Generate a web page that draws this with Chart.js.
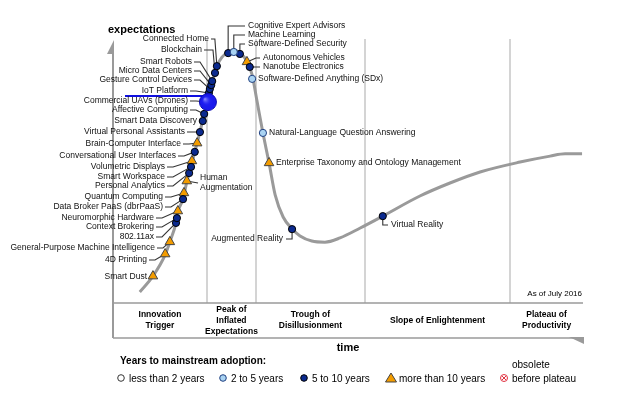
<!DOCTYPE html>
<html>
<head>
<meta charset="utf-8">
<script src="https://cdn.jsdelivr.net/npm/chart.js@4.4.1/dist/chart.umd.min.js"></script>
<style>
  html, body { margin: 0; padding: 0; background: #fff; }
  #wrap { width: 620px; height: 395px; }
</style>
</head>
<body>
<div id="wrap"><canvas id="hype" width="620" height="395"></canvas></div>
<script>
// hype curve (time 0-100, expectations 0-100)
const curveX = [5.7, 8.5, 11.1, 12.1, 13.4, 13.8, 14.9, 15.7, 16.6, 17.4, 18.5, 19.4, 20.2, 21.1, 22.1, 23.2, 24.5, 25.7, 27.0, 28.5, 29.6, 30.6, 31.9, 33.2, 34.5, 36.2, 38.1, 39.8, 42.3, 45.1, 48.3, 52.6, 57.4, 65.3, 71.7, 78.1, 86.6, 93.0, 96.2, 99.8];
const curveY = [3.9, 9.5, 17.0, 21.6, 28.3, 32.2, 36.7, 42.8, 48.1, 53.4, 60.4, 66.8, 71.4, 77.7, 83.7, 86.9, 88.7, 89.4, 88.3, 85.5, 80.6, 71.7, 60.1, 49.5, 38.2, 30.4, 26.2, 23.7, 21.9, 21.5, 23.0, 26.5, 30.7, 37.8, 42.4, 46.3, 49.8, 51.9, 52.7, 52.7];

// technologies: 0 = less than 2 years, 1 = 2 to 5, 2 = 5 to 10, 3 = more than 10
const techNames = [
  "Smart Dust", "4D Printing", "General-Purpose Machine Intelligence", "802.11ax",
  "Context Brokering", "Neuromorphic Hardware", "Data Broker PaaS (dbrPaaS)", "Quantum Computing",
  "Human\nAugmentation", "Personal Analytics", "Smart Workspace", "Volumetric Displays",
  "Conversational User Interfaces", "Brain-Computer Interface", "Virtual Personal Assistants", "Smart Data Discovery",
  "Affective Computing", "Commercial UAVs (Drones)", "IoT Platform", "Gesture Control Devices",
  "Micro Data Centers", "Smart Robots", "Blockchain", "Connected Home",
  "Cognitive Expert Advisors", "Machine Learning", "Software-Defined Security", "Autonomous Vehicles",
  "Nanotube Electronics", "Software-Defined Anything (SDx)", "Natural-Language Question Answering", "Enterprise Taxonomy and Ontology Management",
  "Augmented Reality", "Virtual Reality"
];
const techX = [8.5, 11.1, 12.1, 13.4, 13.6, 13.8, 14.9, 15.1, 15.7, 16.2, 16.6, 16.8, 17.4, 17.9, 18.5, 19.1, 19.4, 20.2, 20.4, 20.6, 20.9, 21.1, 21.7, 22.1, 24.5, 25.7, 27.0, 28.5, 29.1, 29.6, 31.9, 33.2, 38.1, 57.4];
const techY = [9.5, 17.3, 21.6, 28.3, 30.0, 32.5, 36.7, 38.9, 43.1, 45.9, 48.1, 50.2, 53.4, 56.5, 60.4, 64.3, 66.8, 71.0, 74.2, 75.6, 77.0, 78.4, 81.3, 83.7, 88.3, 88.7, 88.0, 85.2, 83.4, 79.2, 60.1, 49.5, 26.1, 30.7];
const techCat = [3, 3, 3, 2, 2, 3, 2, 3, 3, 2, 2, 3, 2, 3, 2, 2, 2, 2, 2, 2, 2, 2, 2, 2, 2, 1, 2, 3, 2, 1, 1, 3, 2, 2];

// highlighted item
const highlightX = [20.2];
const highlightY = [71.0];

const phaseBounds = [0, 20.0, 30.4, 53.6, 84.5, 100];
const phaseNames = ["Innovation\nTrigger", "Peak of\nInflated\nExpectations", "Trough of\nDisillusionment", "Slope of Enlightenment", "Plateau of\nProductivity"];
const legendLabels = ["less than 2 years", "2 to 5 years", "5 to 10 years", "more than 10 years", "before plateau"];

// label placement (canvas px): [x, y, align, leader]
const labelSpots = [
  [147, 277, "right", "none"], [147, 260, "right", "l"], [155, 248, "right", "l"], [154, 237, "right", "l"],
  [154, 227, "right", "l"], [154, 218, "right", "l"], [163, 207, "right", "l"], [163, 197, "right", "l"],
  [200, 178, "left", "ha"], [165, 186, "right", "l"], [165, 177, "right", "l"], [165, 167, "right", "l"],
  [176, 156, "right", "l"], [181, 144, "right", "l"], [185, 132, "right", "l"], [197, 121, "right", "l"],
  [188, 110, "right", "l"], [188, 101, "right", "l"], [188, 91, "right", "l"], [192, 80, "right", "l"],
  [192, 71, "right", "l"], [192, 62, "right", "l"], [202, 50, "right", "lv"], [209, 39, "right", "lv"],
  [248, 26, "left", "up"], [248, 35, "left", "up"], [248, 44, "left", "up"], [263, 58, "left", "r"],
  [263, 67, "left", "r"], [258, 79, "left", "none"], [269, 133, "left", "none"], [276, 163, "left", "none"],
  [283, 239, "right", "down"], [391, 225, "left", "down"]
];

const FONT = '"Liberation Sans", Arial, sans-serif';
const catFill = ["#ffffff", "#a9d3f2", "#0b2a8f", "#f39c00"];
const catBorder = ["#333333", "#1f3f80", "#000000", "#444444"];

function catData(c) {
  const out = [];
  techX.forEach((x, i) => { if (techCat[i] === c) out.push({ x: x, y: techY[i] }); });
  return out;
}

const decorPlugin = {
  id: 'decor',
  beforeDatasetsDraw(chart) {
    const { ctx: c, scales: { x, y } } = chart;
    const left = x.getPixelForValue(0), right = x.getPixelForValue(100);
    const base = y.getPixelForValue(0);
    const band = base + 35;
    c.save();
    // phase separators
    c.strokeStyle = "#d4d4d4";
    c.lineWidth = 2;
    phaseBounds.slice(1, -1).forEach(v => {
      const px = Math.round(x.getPixelForValue(v));
      c.beginPath(); c.moveTo(px, 39); c.lineTo(px, base); c.stroke();
    });
    // axes
    c.strokeStyle = "#9a9a9a";
    c.fillStyle = "#9a9a9a";
    c.lineWidth = 2;
    c.beginPath(); c.moveTo(left, 44); c.lineTo(left, band); c.stroke();
    c.lineWidth = 1.5;
    c.beginPath(); c.moveTo(left, base); c.lineTo(right, base); c.stroke();
    c.beginPath(); c.moveTo(left, band); c.lineTo(right, band); c.stroke();
    c.beginPath(); c.moveTo(left + 1, 40); c.lineTo(left + 1, 54); c.lineTo(left - 6, 54); c.closePath(); c.fill();
    c.beginPath(); c.moveTo(right - 14, band - 1); c.lineTo(right + 1, band - 1); c.lineTo(right + 1, band + 6); c.closePath(); c.fill();

    // phase names
    c.fillStyle = "#000";
    c.font = "bold 8.5px " + FONT;
    c.textAlign = "center";
    c.textBaseline = "middle";
    phaseNames.forEach((name, i) => {
      const cx = (x.getPixelForValue(phaseBounds[i]) + x.getPixelForValue(phaseBounds[i + 1])) / 2;
      const lines = name.split("\n");
      const mid = (base + band) / 2;
      lines.forEach((ln, k) => c.fillText(ln, cx, mid + (k - (lines.length - 1) / 2) * 11));
    });
    c.font = "8px " + FONT;
    c.textAlign = "right";
    c.fillText("As of July 2016", right - 1, base - 9);

    c.font = "bold 11px " + FONT;
    c.textAlign = "left";
    c.fillText("expectations", 108, 30);
    c.textAlign = "center";
    c.fillText("time", (left + right) / 2, band + 10);

    // leaders
    c.strokeStyle = "#333";
    c.lineWidth = 1.1;
    techNames.forEach((name, i) => {
      const [tx, ty, align, kind] = labelSpots[i];
      const mx = x.getPixelForValue(techX[i]);
      const my = y.getPixelForValue(techY[i]);
      c.beginPath();
      if (kind === "l") {
        c.moveTo(tx + 2, ty); c.lineTo(tx + 8, ty); c.lineTo(mx, my);
      } else if (kind === "lv") {
        c.moveTo(tx + 2, ty); c.lineTo(mx - 2, ty); c.lineTo(mx, my);
      } else if (kind === "up") {
        c.moveTo(mx, my); c.lineTo(mx, ty); c.lineTo(tx - 3, ty);
      } else if (kind === "down") {
        c.moveTo(mx, my); c.lineTo(mx, ty);
        c.lineTo(align === "left" ? tx - 3 : tx + 3, ty);
      } else if (kind === "r") {
        c.moveTo(mx, my); c.lineTo(tx - 7, ty); c.lineTo(tx - 3, ty);
      } else if (kind === "ha") {
        c.moveTo(mx, my); c.lineTo(tx - 2, ty + 5);
      }
      c.stroke();
    });
    // highlight underline
    const hi = techNames.indexOf("IoT Platform");
    c.strokeStyle = "#1010e0";
    c.lineWidth = 2;
    c.beginPath();
    c.moveTo(125, labelSpots[hi][1] + 5);
    c.lineTo(x.getPixelForValue(highlightX[0]) - 4, labelSpots[hi][1] + 5);
    c.stroke();
    c.restore();
  },
  afterDatasetsDraw(chart) {
    const { ctx: c } = chart;
    c.save();
    // shading on the highlighted ball
    chart.getDatasetMeta(0).data.forEach(pt => {
      const g = c.createRadialGradient(pt.x - 3, pt.y - 3, 0.5, pt.x, pt.y, 8);
      g.addColorStop(0, "rgba(140,140,255,0.9)");
      g.addColorStop(0.5, "rgba(40,40,245,0.3)");
      g.addColorStop(1, "rgba(10,10,180,0)");
      c.fillStyle = g;
      c.beginPath(); c.arc(pt.x, pt.y, 8, 0, Math.PI * 2); c.fill();
    });

    c.fillStyle = "#111";
    c.font = "8.5px " + FONT;
    c.textBaseline = "middle";
    techNames.forEach((name, i) => {
      const [tx, ty, align] = labelSpots[i];
      c.textAlign = align;
      name.split("\n").forEach((ln, k) => c.fillText(ln, tx, ty + k * 10));
    });

    // legend
    c.fillStyle = "#000";
    c.font = "bold 10px " + FONT;
    c.textAlign = "left";
    c.fillText("Years to mainstream adoption:", 120, 361);
    const ly = 378;
    const lx = [121, 223, 304, 391, 504];
    c.font = "10px " + FONT;
    legendLabels.forEach((lab, i) => {
      const px = lx[i];
      c.lineWidth = 1;
      if (i < 3) {
        c.beginPath(); c.arc(px, ly, 3.3, 0, Math.PI * 2);
        c.fillStyle = catFill[i]; c.fill();
        c.strokeStyle = catBorder[i]; c.stroke();
      } else if (i === 3) {
        c.beginPath(); c.moveTo(px, ly - 5); c.lineTo(px + 5.5, ly + 4); c.lineTo(px - 5.5, ly + 4); c.closePath();
        c.fillStyle = catFill[3]; c.fill();
        c.strokeStyle = catBorder[3]; c.stroke();
      } else {
        c.strokeStyle = "#e03040";
        c.beginPath(); c.arc(px, ly, 3.5, 0, Math.PI * 2); c.stroke();
        c.beginPath();
        c.moveTo(px - 2, ly - 2); c.lineTo(px + 2, ly + 2);
        c.moveTo(px + 2, ly - 2); c.lineTo(px - 2, ly + 2);
        c.stroke();
      }
      c.fillStyle = "#000";
      c.fillText(lab, px + 8, ly + 1);
    });
    c.fillText("obsolete", 512, 365);
    c.restore();
  }
};

new Chart(document.getElementById("hype"), {
  type: 'scatter',
  data: {
    datasets: [
      {
        label: 'highlight',
        data: highlightX.map((v, i) => ({ x: v, y: highlightY[i] })),
        backgroundColor: "#1a1af0",
        borderColor: "#0a0ab0",
        borderWidth: 1,
        pointRadius: 8.5,
        order: 0
      },
      {
        label: 'less than 2 years',
        data: catData(0),
        backgroundColor: catFill[0], borderColor: catBorder[0], borderWidth: 1,
        pointRadius: 3.6, order: 1
      },
      {
        label: '2 to 5 years',
        data: catData(1),
        backgroundColor: catFill[1], borderColor: catBorder[1], borderWidth: 1,
        pointRadius: 3.6, order: 1
      },
      {
        label: '5 to 10 years',
        data: catData(2),
        backgroundColor: catFill[2], borderColor: catBorder[2], borderWidth: 1,
        pointRadius: 3.6, order: 1
      },
      {
        label: 'more than 10 years',
        data: catData(3),
        backgroundColor: catFill[3], borderColor: catBorder[3], borderWidth: 1,
        pointStyle: 'triangle', pointRadius: 5.5, order: 1
      },
      {
        type: 'line',
        label: 'curve',
        data: curveX.map((v, i) => ({ x: v, y: curveY[i] })),
        borderColor: "#9a9a9a",
        borderWidth: 3,
        pointRadius: 0,
        cubicInterpolationMode: 'monotone',
        fill: false,
        order: 10
      }
    ]
  },
  options: {
    responsive: false,
    devicePixelRatio: 1,
    animation: false,
    layout: { padding: { left: 113, right: 37, top: 20, bottom: 92 } },
    plugins: { legend: { display: false }, tooltip: { enabled: false } },
    scales: {
      x: { type: 'linear', min: 0, max: 100, display: false },
      y: { type: 'linear', min: 0, max: 100, display: false }
    }
  },
  plugins: [decorPlugin]
});
</script>
</body>
</html>
